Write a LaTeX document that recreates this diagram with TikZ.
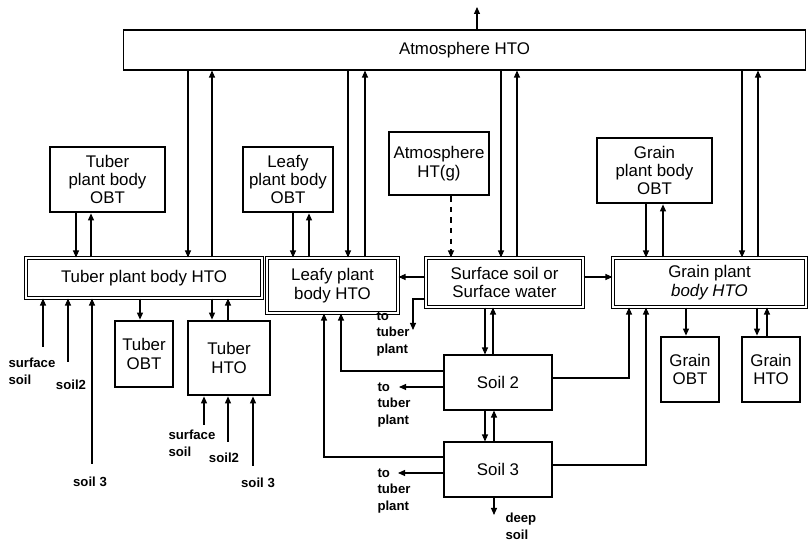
\documentclass[tikz,border=0pt]{standalone}
\usepackage{fontspec}
\setmainfont{Liberation Sans}
\usetikzlibrary{arrows.meta}

\begin{document}
\begin{tikzpicture}[x=0.02cm,y=-0.02cm,>={Triangle[length=1.4mm,width=1.2mm]},line width=0.6pt,
  font=\fontsize{9.6}{10.5}\selectfont,
  plain/.style={draw,inner sep=1pt,align=center},
  obt/.style={draw,line width=1.6pt,inner sep=1pt,align=center},
  hto/.style={draw,double,double distance=1pt,inner sep=1pt,align=center},
  lbl/.style={inner sep=0pt,align=left,font=\fontsize{7.5}{9.6}\selectfont\bfseries}]
\useasboundingbox (0,0) rectangle (809,543);
\node[plain,minimum width=13.66cm,minimum height=0.8cm] (atm) at (464.5,50) {Atmosphere HTO};
\node[obt,minimum width=2.3cm,minimum height=1.3cm] (tobt) at (107.5,179.5) {Tuber\\plant body\\OBT};
\node[obt,minimum width=1.8cm,minimum height=1.3cm] (lobt) at (288,179.5) {Leafy\\plant body\\OBT};
\node[obt,minimum width=2cm,minimum height=1.26cm] (htg) at (439,163.5) {Atmosphere\\HT(g)};
\node[obt,minimum width=2.3cm,minimum height=1.3cm] (gobt) at (654.5,170.5) {Grain\\plant body\\OBT};
\node[hto,minimum width=4.72cm,minimum height=0.8cm] (tph) at (144,278) {Tuber plant body HTO};
\node[hto,minimum width=2.62cm,minimum height=1.1cm] (lph) at (332.5,285.5) {Leafy plant\\body HTO};
\node[hto,minimum width=3.14cm,minimum height=0.98cm] (ssw) at (504.5,282.5) {Surface soil or\\Surface water};
\node[hto,minimum width=3.86cm,minimum height=0.98cm] (gph) at (709.5,282.5) {Grain plant\\\textit{body HTO}};
\node[obt,minimum width=1.16cm,minimum height=1.32cm] (tuobt) at (144,354) {Tuber\\OBT};
\node[obt,minimum width=1.64cm,minimum height=1.48cm] (tuhto) at (229,358) {Tuber\\HTO};
\node[obt,minimum width=1.16cm,minimum height=1.3cm] (grobt) at (690,369.5) {Grain\\OBT};
\node[obt,minimum width=1.16cm,minimum height=1.3cm] (grhto) at (771,369.5) {Grain\\HTO};
\node[plain,minimum width=2.16cm,minimum height=1.1cm] (soil2) at (498,382.5) {Soil 2};
\node[plain,minimum width=2.16cm,minimum height=1.1cm] (soil3) at (498,469.5) {Soil 3};
\node[lbl,anchor=west] (lss1) at (8,371.5) {surface\\soil};
\node[lbl] (ls21) at (71,385) {soil2};
\node[lbl] (ls31) at (90,482) {soil 3};
\node[lbl,anchor=west] (lss2) at (168,443) {surface\\soil};
\node[lbl] (ls22) at (224,458) {soil2};
\node[lbl] (ls32) at (258,483) {soil 3};
\node[lbl,anchor=west] (ltp1) at (376,334) {to\\tuber\\plant};
\node[lbl,anchor=west] (ltp2) at (377,405) {to\\tuber\\plant};
\node[lbl,anchor=west] (ltp3) at (377,491) {to\\tuber\\plant};
\node[lbl,anchor=west] (ldeep) at (505,526) {deep\\soil};
\coordinate (top) at (477,7);
\coordinate (in1) at (43,347);
\coordinate (in2) at (68,362);
\coordinate (in3) at (92,464);
\coordinate (in4) at (204,425);
\coordinate (in5) at (228,442);
\coordinate (in6) at (253,466);
\coordinate (tp1) at (413,330);
\coordinate (tp2) at (399,387);
\coordinate (tp3) at (398,473);
\coordinate (deep) at (494,515);
\draw[->] (atm.north -| top) -- (top);
\draw[->] (atm.south -| 188,0) -- (tph.north -| 188,0);
\draw[->] (tph.north -| 212,0) -- (atm.south -| 212,0);
\draw[->] (atm.south -| 348,0) -- (lph.north -| 348,0);
\draw[->] (lph.north -| 365,0) -- (atm.south -| 365,0);
\draw[->] (atm.south -| 501,0) -- (ssw.north -| 501,0);
\draw[->] (ssw.north -| 517,0) -- (atm.south -| 517,0);
\draw[->] (atm.south -| 742,0) -- (gph.north -| 742,0);
\draw[->] (gph.north -| 758,0) -- (atm.south -| 758,0);
\draw[->] (tobt.south -| 76,0) -- (tph.north -| 76,0);
\draw[->] (tph.north -| 91,0) -- (tobt.south -| 91,0);
\draw[->] (lobt.south -| 293,0) -- (lph.north -| 293,0);
\draw[->] (lph.north -| 309,0) -- (lobt.south -| 309,0);
\draw[->] (gobt.south -| 646,0) -- (gph.north -| 646,0);
\draw[->] (gph.north -| 663,0) -- (gobt.south -| 663,0);
\draw[->,dashed] (htg.south -| 451,0) -- (ssw.north -| 451,0);
\draw[->] (tph.south -| 140,0) -- (tuobt.north -| 140,0);
\draw[->] (tph.south -| 212,0) -- (tuhto.north -| 212,0);
\draw[->] (tuhto.north -| 228,0) -- (tph.south -| 228,0);
\draw[->] (in1) -- (tph.south -| in1);
\draw[->] (in2) -- (tph.south -| in2);
\draw[->] (in3) -- (tph.south -| in3);
\draw[->] (in4) -- (tuhto.south -| in4);
\draw[->] (in5) -- (tuhto.south -| in5);
\draw[->] (in6) -- (tuhto.south -| in6);
\draw[->] (ssw.west |- 0,277) -- (lph.east |- 0,277);
\draw[->] (ssw.east |- 0,277) -- (gph.west |- 0,277);
\draw[->] (ssw.west |- 0,299) -| (tp1);
\draw[->] (ssw.south -| 485,0) -- (soil2.north -| 485,0);
\draw[->] (soil2.north -| 493,0) -- (ssw.south -| 493,0);
\draw[->] (soil2.south -| 485,0) -- (soil3.north -| 485,0);
\draw[->] (soil3.north -| 494,0) -- (soil2.south -| 494,0);
\draw[->] (soil2.west |- 0,371) -| (lph.south -| 341,0);
\draw[->] (soil3.west |- 0,457) -| (lph.south -| 324,0);
\draw[->] (soil2.east |- 0,378) -| (gph.south -| 629,0);
\draw[->] (soil3.east |- 0,465) -| (gph.south -| 646,0);
\draw[->] (soil2.west |- tp2) -- (tp2);
\draw[->] (soil3.west |- tp3) -- (tp3);
\draw[->] (soil3.south -| deep) -- (deep);
\draw[->] (gph.south -| 686,0) -- (grobt.north -| 686,0);
\draw[->] (gph.south -| 757,0) -- (grhto.north -| 757,0);
\draw[->] (grhto.north -| 767,0) -- (gph.south -| 767,0);
\end{tikzpicture}
\end{document}
